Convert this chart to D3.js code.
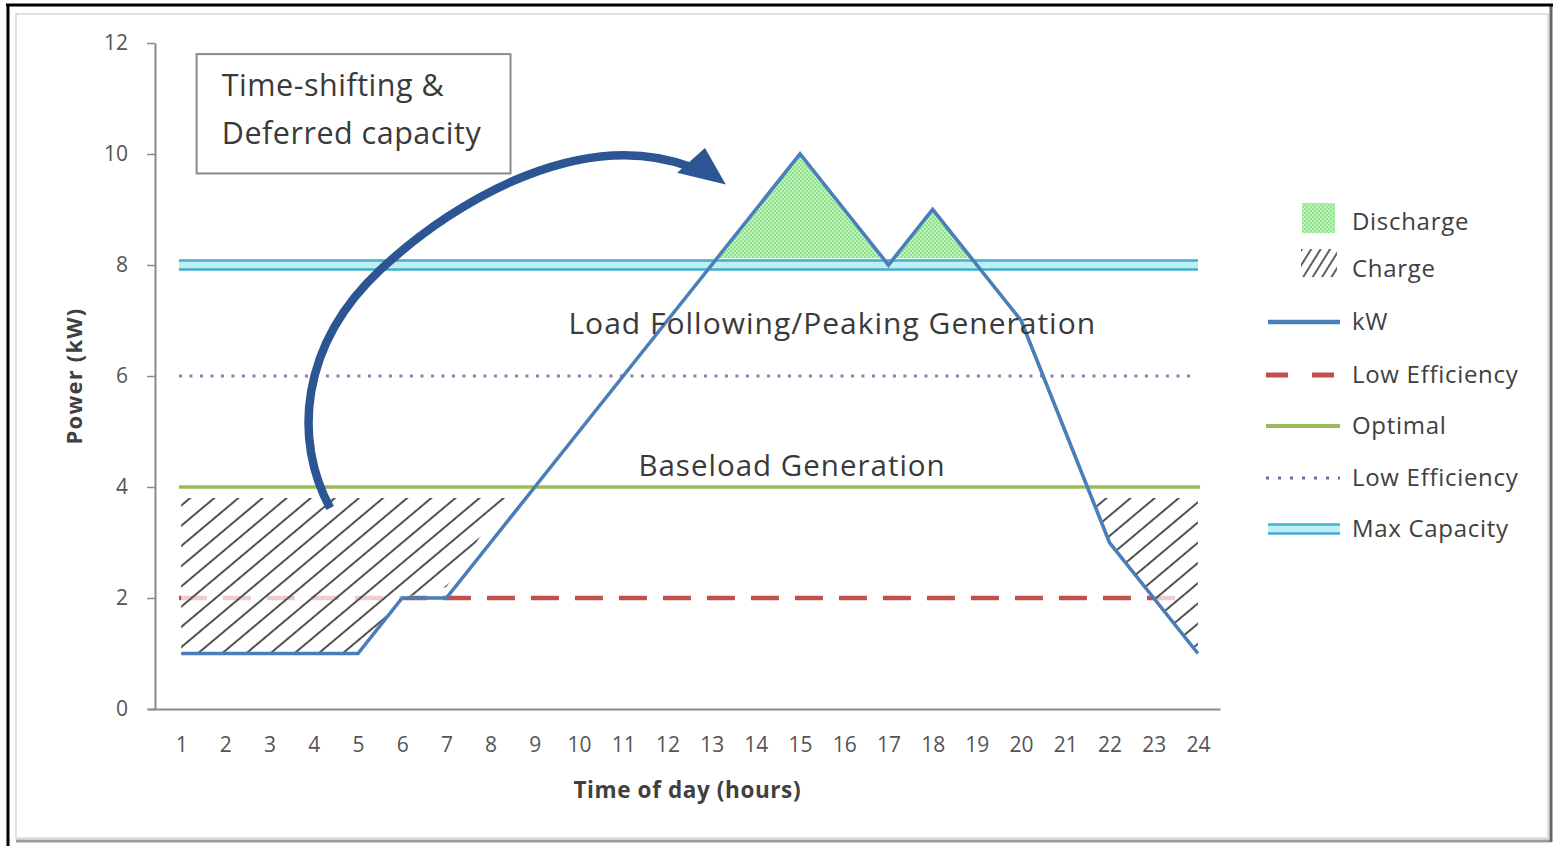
<!DOCTYPE html>
<html><head><meta charset="utf-8">
<script src="https://cdn.jsdelivr.net/npm/d3@7"></script>
<style>
html,body{margin:0;padding:0;background:#fff;}
svg{display:block;}
text{font-family:"Open Sans",sans-serif;}
</style></head>
<body>
<svg id="chart" width="1559" height="846"></svg>
<script>
// ---------- data ----------
const hours = d3.range(1, 25);
const kW = [1,1,1,1,1,2,2,3,4,5,6,7,8,9,10,9,8,9,8,7,5,3,2,1];
const yTicks = [0,2,4,6,8,10,12];
const lowEffHigh = 6;   // dotted
const optimal = 4;      // solid green
const lowEffLow = 2;    // dashed red
const maxCapacity = 8;  // double cyan
// charge (hatched) regions
const chargeLeftHours = [1, 5, 6, 7, 8.35];
const chargeLeftLow   = [1, 1, 2, 2.2, 3.8];
const chargeLeftHigh  = [3.8, 3.8, 3.8, 3.8, 3.8];
const chargeRightHours = [21.6, 22, 23, 24];
const chargeRightLow   = [3.8, 3, 2, 1];
const chargeRightHigh  = [3.8, 3.8, 3.8, 3.8];
// discharge (green) regions
const dis1Hours = [13.15, 15, 16.85];
const dis1Top   = [8.15, 10, 8.15];
const dis2Hours = [17.15, 18, 18.85];
const dis2Top   = [8.15, 9, 8.15];
const disBase = 8.12;
// arrow curve (hour, kW)
const arrowPts = [[4.37,3.62],[3.53,4.85],[3.69,6.56],[5.50,7.91],[7.31,9.26],[10.14,10.47],[12.51,9.77]];
const arrowHead = [[12.85,10.11],[13.32,9.45],[12.22,9.66]];
const legendItems = ["Discharge","Charge","kW","Low Efficiency","Optimal","Low Efficiency","Max Capacity"];
const annotations = [
  {text:"Load Following/Peaking Generation", h:15.73, v:6.75, size:30, ls:1},
  {text:"Baseload Generation", h:14.82, v:4.2, size:29.5, ls:1}
];
const boxLines = ["Time-shifting &", "Deferred capacity"];

// ---------- setup ----------
const svg = d3.select("#chart");
const x = d3.scaleLinear().domain([0.25, 24.5]).range([148, 1220]);
const y = d3.scaleLinear().domain([0, 12]).range([709, 43]);

const COL = {kw:"#4a7ebb", red:"#c0504d", green:"#9bbb59", purple:"#8064a2",
  cyan:"#45b0c8", cyanLight:"#bfeef5", arrow:"#2c5593", text:"#404040", axis:"#8a8a8a"};

const defs = svg.append("defs");
// discharge pattern
const dp = defs.append("pattern").attr("id","disPat").attr("patternUnits","userSpaceOnUse")
  .attr("width",4).attr("height",4);
dp.append("rect").attr("width",4).attr("height",4).attr("fill","#bdf5b8");
dp.append("rect").attr("width",2).attr("height",2).attr("fill","#92e292");
dp.append("rect").attr("x",2).attr("y",2).attr("width",2).attr("height",2).attr("fill","#92e292");
// charge hatch pattern
function hatch(id, spacing, angle, w, col){
  const p = defs.append("pattern").attr("id",id).attr("patternUnits","userSpaceOnUse")
    .attr("width",10).attr("height",spacing).attr("patternTransform",`rotate(${angle})`);
  p.append("rect").attr("width",10).attr("height",spacing).attr("fill","#fff").attr("fill-opacity",0.72);
  p.append("line").attr("x1",0).attr("x2",10).attr("y1",spacing/2).attr("y2",spacing/2)
    .attr("stroke",col).attr("stroke-width",w);
}
hatch("chgPat", 15.5, -40, 2, "#505050");
hatch("chgLegPat", 8, -58, 2, "#606060");

// ---------- frame ----------
svg.append("rect").attr("x",16).attr("y",14).attr("width",1532).attr("height",824)
  .attr("fill","none").attr("stroke","#d6d6d6").attr("stroke-width",1.5);
svg.append("line").attr("x1",16).attr("x2",1551).attr("y1",841).attr("y2",841).attr("stroke","#9a9a9a").attr("stroke-width",3);
svg.append("line").attr("x1",1551).attr("x2",1551).attr("y1",5).attr("y2",842).attr("stroke","#666").attr("stroke-width",3);
svg.append("line").attr("x1",6).attr("x2",1553).attr("y1",5).attr("y2",5).attr("stroke","#000").attr("stroke-width",3);
svg.append("line").attr("x1",8).attr("x2",8).attr("y1",4).attr("y2",846).attr("stroke","#000").attr("stroke-width",3);

// ---------- axes ----------
const yAxis = svg.append("g").attr("transform",`translate(${x(0.25)+7},0)`)
  .call(d3.axisLeft(y).tickValues(yTicks).tickSize(8).tickPadding(19).tickSizeOuter(0));
yAxis.select(".domain").attr("stroke",COL.axis).attr("stroke-width",2);
yAxis.selectAll(".tick line").attr("stroke",COL.axis).attr("stroke-width",1.5);
yAxis.selectAll("text").attr("font-size",21).attr("fill","#555").attr("font-family","Open Sans");

const xAxis = svg.append("g").attr("transform",`translate(0,${y(0)})`)
  .call(d3.axisBottom(x).tickValues(hours).tickSize(0).tickPadding(28).tickFormat(d3.format("d")));
xAxis.select(".domain").attr("stroke",COL.axis).attr("stroke-width",2);
xAxis.selectAll("text").attr("font-size",21).attr("fill","#555").attr("font-family","Open Sans");

svg.append("text").attr("x",x(12.45)).attr("y",798).attr("text-anchor","middle")
  .attr("font-size",22.5).attr("letter-spacing",0.6).attr("font-weight","bold").attr("fill","#404040").text("Time of day (hours)");
svg.append("text").attr("transform",`translate(82,${y(6)}) rotate(-90)`).attr("text-anchor","middle")
  .attr("font-size",22).attr("letter-spacing",1.2).attr("font-weight","bold").attr("fill","#404040").text("Power (kW)");

// ---------- reference lines ----------
const hLine = (v, h0, h1) => svg.append("line").attr("x1",x(h0)).attr("x2",x(h1)).attr("y1",y(v)).attr("y2",y(v));
hLine(lowEffLow, 0.95, 23.85).attr("stroke",COL.red).attr("stroke-width",4.5).attr("stroke-dasharray","28,16");

// ---------- charge areas ----------
const areaGen = d3.area().x(d=>x(d[0])).y0(d=>y(d[1])).y1(d=>y(d[2]));
svg.append("path").datum(chargeLeftHours.map((h,i)=>[h,chargeLeftLow[i],chargeLeftHigh[i]]))
  .attr("d",areaGen).attr("fill","url(#chgPat)");
svg.append("path").datum(chargeRightHours.map((h,i)=>[h,chargeRightLow[i],chargeRightHigh[i]]))
  .attr("d",areaGen).attr("fill","url(#chgPat)");

// ---------- discharge areas ----------
[[dis1Hours,dis1Top],[dis2Hours,dis2Top]].forEach(([hs,ts])=>{
  svg.append("path").datum(hs.map((h,i)=>[h,disBase,ts[i]])).attr("d",areaGen).attr("fill","url(#disPat)");
});

hLine(optimal, 0.95, 24.05).attr("stroke",COL.green).attr("stroke-width",3.5);
hLine(lowEffHigh, 0.95, 23.85).attr("stroke",COL.purple).attr("stroke-width",3).attr("stroke-dasharray","3,7.5").attr("opacity",0.85);
// max capacity double line
hLine(maxCapacity, 0.95, 24.0).attr("stroke",COL.cyanLight).attr("stroke-width",11);
hLine(maxCapacity+0.08, 0.95, 24.0).attr("stroke",COL.cyan).attr("stroke-width",2.6);
hLine(maxCapacity-0.08, 0.95, 24.0).attr("stroke",COL.cyan).attr("stroke-width",2.6);

// ---------- kW line ----------
svg.append("path").datum(hours.map((h,i)=>[h,kW[i]]))
  .attr("d", d3.line().x(d=>x(d[0])).y(d=>y(d[1])))
  .attr("fill","none").attr("stroke",COL.kw).attr("stroke-width",3.6).attr("stroke-linejoin","miter");

// ---------- annotations ----------
annotations.forEach(a=>{
  svg.append("text").attr("x",x(a.h)).attr("y",y(a.v)).attr("text-anchor","middle")
    .attr("font-size",a.size).attr("letter-spacing",a.ls).attr("fill","#3a3a3a").text(a.text);
});
// text box
svg.append("rect").attr("x",x(1.35)).attr("y",y(11.8)).attr("width",x(8.45)-x(1.35)).attr("height",y(9.65)-y(11.8))
  .attr("fill","#fff").attr("stroke","#8a8a8a").attr("stroke-width",2);
boxLines.forEach((t,i)=>{
  svg.append("text").attr("x",x(1.92)).attr("y",y(11.04 - i*0.86)).attr("font-size",30.5).attr("letter-spacing",0.5)
    .attr("fill","#3a3a3a").text(t);
});

// ---------- arrow ----------
const ap = arrowPts.map(p=>[x(p[0]),y(p[1])]);
const path = d3.path();
path.moveTo(...ap[0]);
path.bezierCurveTo(...ap[1],...ap[2],...ap[3]);
path.bezierCurveTo(...ap[4],...ap[5],...ap[6]);
svg.append("path").attr("d",path.toString()).attr("fill","none").attr("stroke",COL.arrow)
  .attr("stroke-width",8.5).attr("stroke-linecap","butt");
svg.append("path").attr("d",d3.line()(arrowHead.map(p=>[x(p[0]),y(p[1])]))+"Z").attr("fill",COL.arrow);

// ---------- legend ----------
const legX0 = 1266, legX1 = 1340, legTextX = 1352;
const legY = [222,269,322,375,426,478,529];
const lg = svg.append("g");
legendItems.forEach((t,i)=>{
  lg.append("text").attr("x",legTextX).attr("y",legY[i]).attr("dy","0.35em").attr("font-size",24)
    .attr("letter-spacing",0.7).attr("fill",COL.text).text(t);
});
lg.append("rect").attr("x",1302).attr("y",legY[0]-19).attr("width",33).attr("height",30).attr("fill","url(#disPat)");
lg.append("rect").attr("x",1301).attr("y",legY[1]-20).attr("width",36).attr("height",28).attr("fill","url(#chgLegPat)");
lg.append("line").attr("x1",legX0+2).attr("x2",legX1).attr("y1",legY[2]).attr("y2",legY[2]).attr("stroke",COL.kw).attr("stroke-width",4.5);
lg.append("line").attr("x1",legX0).attr("x2",legX1).attr("y1",legY[3]).attr("y2",legY[3]).attr("stroke",COL.red).attr("stroke-width",5).attr("stroke-dasharray","22,24");
lg.append("line").attr("x1",legX0).attr("x2",legX1).attr("y1",legY[4]).attr("y2",legY[4]).attr("stroke",COL.green).attr("stroke-width",4);
lg.append("line").attr("x1",legX0).attr("x2",legX1).attr("y1",legY[5]).attr("y2",legY[5]).attr("stroke",COL.purple).attr("stroke-width",3).attr("stroke-dasharray","3,9");
lg.append("line").attr("x1",legX0+2).attr("x2",legX1).attr("y1",legY[6]).attr("y2",legY[6]).attr("stroke",COL.cyanLight).attr("stroke-width",11);
lg.append("line").attr("x1",legX0+2).attr("x2",legX1).attr("y1",legY[6]-4.5).attr("y2",legY[6]-4.5).attr("stroke",COL.cyan).attr("stroke-width",2.6);
lg.append("line").attr("x1",legX0+2).attr("x2",legX1).attr("y1",legY[6]+4.5).attr("y2",legY[6]+4.5).attr("stroke",COL.cyan).attr("stroke-width",2.6);
</script>
</body></html>
